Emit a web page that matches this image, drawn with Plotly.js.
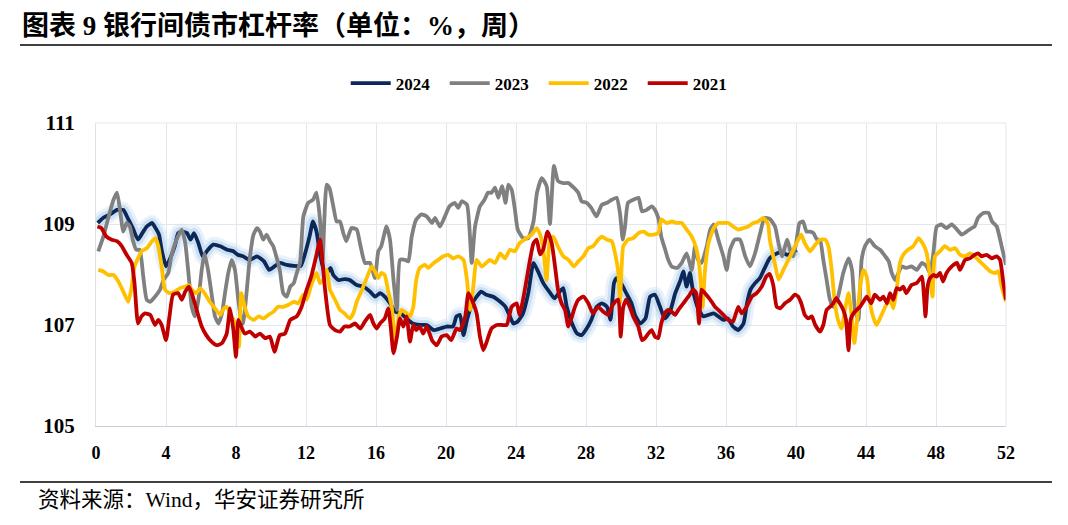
<!DOCTYPE html>
<html>
<head>
<meta charset="utf-8">
<script src="https://cdn.plot.ly/plotly-3.0.1.min.js"></script>
<style>
  html, body { margin: 0; padding: 0; background: #ffffff; }
  #chart { width: 1068px; height: 525px; }
</style>
</head>
<body>
<div id="chart"></div>
<script>
// ---- data (x = week of year) ----
const seriesNames = ["2024", "2023", "2022", "2021"];
const xTicks = [0, 4, 8, 12, 16, 20, 24, 28, 32, 36, 40, 44, 48, 52];
const yTicks = [105, 107, 109, 111];

const w2024 = [0.1,0.4,0.8,1.2,1.56,1.85,2.1,2.4,2.7,2.9,3.2,3.4,3.6,3.75,4.0,4.2,4.5,4.7,4.9,5.2,5.4,5.6,5.85,6.1,6.4,6.7,7.1,7.5,7.85,8.1,8.4,8.8,9.2,9.6,9.9,10.2,10.5,10.9,11.3,11.7,11.9,12.2,12.4,12.6,12.8,13.0,13.1,13.4,13.56,13.85,14.2,14.5,14.9,15.3,15.66,15.95,16.23,16.5,16.8,17.1,17.4,17.75,18.1,18.5,18.9,19.3,19.66,20.04,20.4,20.6,20.8,21.0,21.2,21.5,21.75,22.0,22.3,22.7,23.1,23.4,23.65,23.85,24.1,24.4,24.7,25.0,25.3,25.56,25.9,26.2,26.5,26.7,26.9,27.2,27.5,27.75,28.04,28.3,28.6,28.9,29.2,29.4,29.6,29.75,30.0,30.3,30.6,30.8,31.1,31.4,31.66,31.94,32.23,32.5,32.8,33.1,33.4,33.56,33.75,33.94,34.1,34.4,34.7,35.0,35.3,35.56,35.85,36.1,36.4,36.7,37.0,37.2,37.4,37.66,37.94,38.2,38.5,38.8,39.1,39.3,39.5,39.75,40.04];
const v2024 = [109.02,109.12,109.19,109.28,109.28,109.09,108.92,108.69,108.85,108.95,109.02,108.92,108.79,108.49,108.16,108.29,108.56,108.82,108.85,108.82,108.69,108.82,108.62,108.36,108.49,108.59,108.56,108.49,108.46,108.39,108.36,108.29,108.36,108.26,108.09,108.16,108.23,108.19,108.17,108.17,108.36,108.75,109.05,108.85,108.4,108.1,107.99,108.13,107.99,107.89,107.91,107.89,107.79,107.76,107.66,107.56,107.63,107.56,107.43,107.26,107.23,107.13,107.03,107.0,107.0,106.9,106.93,106.97,106.97,107.17,107.2,106.8,107.1,107.43,107.56,107.66,107.6,107.56,107.46,107.36,107.17,107.03,107.07,107.23,107.63,108.23,108.03,107.83,107.66,107.53,107.66,107.73,107.36,107.03,106.83,106.8,106.93,107.1,107.36,107.43,107.36,107.1,107.83,107.93,107.83,107.63,107.43,107.2,107.03,107.13,107.56,107.6,107.36,107.13,107.26,107.63,107.89,108.06,107.76,108.03,107.7,107.33,107.17,107.2,107.23,107.17,107.1,107.13,106.97,106.9,107.03,107.43,107.7,107.83,107.93,108.12,108.32,108.4,108.44,108.42,108.39,108.42,108.49];

const w2023 = [0.13,0.42,0.7,1.0,1.2,1.37,1.56,1.75,1.94,2.1,2.3,2.5,2.7,2.9,3.1,3.37,3.66,3.85,4.13,4.3,4.6,4.9,5.1,5.3,5.47,5.66,5.85,6.04,6.2,6.4,6.6,6.8,7.0,7.2,7.37,7.56,7.75,7.94,8.13,8.3,8.4,8.6,8.8,9.0,9.2,9.37,9.56,9.75,9.94,10.13,10.3,10.5,10.7,10.9,11.1,11.3,11.47,11.66,11.85,12.13,12.4,12.6,12.8,12.95,13.18,13.35,13.56,13.75,13.94,14.13,14.3,14.6,14.9,15.1,15.37,15.66,15.94,16.13,16.3,16.6,16.8,17.0,17.2,17.37,17.66,17.85,18.04,18.3,18.6,18.9,19.2,19.37,19.66,19.94,20.2,20.5,20.7,20.9,21.2,21.47,21.66,21.94,22.2,22.4,22.6,22.8,22.99,23.2,23.4,23.56,23.75,23.94,24.1,24.4,24.7,25.0,25.2,25.47,25.75,25.94,26.17,26.4,26.7,27.0,27.3,27.56,27.75,28.04,28.3,28.6,28.9,29.2,29.47,29.75,29.94,30.1,30.23,30.4,30.7,31.0,31.2,31.47,31.75,31.94,32.13,32.3,32.5,32.7,32.9,33.2,33.47,33.75,34.04,34.23,34.4,34.6,34.9,35.1,35.3,35.56,35.85,36.04,36.23,36.5,36.8,37.1,37.37,37.66,37.94,38.2,38.5,38.8,39.0,39.2,39.5,39.66,39.85,40.04,40.2,40.4,40.6,40.8,41.0,41.2,41.37,41.56,41.75,41.94,42.13,42.4,42.7,43.0,43.2,43.37,43.56,43.75,43.94,44.2,44.5,44.8,45.1,45.3,45.47,45.66,45.85,46.04,46.3,46.6,46.9,47.2,47.47,47.66,47.85,48.04,48.3,48.6,48.9,49.2,49.47,49.75,50.04,50.2,50.4,50.7,51.0,51.2,51.47,51.75,52.0];
const v2023 = [108.46,108.75,109.12,109.48,109.62,109.28,108.85,109.02,108.95,108.69,108.49,108.49,107.96,107.5,107.46,107.56,107.7,107.89,108.03,108.36,108.69,108.89,108.62,107.96,107.36,107.17,107.5,108.09,108.42,108.09,107.63,107.17,107.03,107.23,107.63,108.03,108.29,108.09,107.5,107.1,107.03,107.63,108.36,108.79,108.92,108.85,108.69,108.79,108.66,108.56,108.36,108.09,107.63,107.56,107.76,107.83,108.03,108.23,109.15,109.42,109.48,109.62,109.09,108.3,109.78,109.7,109.35,109.05,109.05,108.82,108.66,108.92,108.89,108.59,108.23,108.23,107.93,108.46,108.56,108.95,108.69,107.89,107.3,108.29,108.29,108.26,108.75,109.09,109.19,109.15,109.02,109.12,108.95,109.15,109.35,109.42,109.32,109.45,109.38,108.23,108.95,109.35,109.48,109.62,109.62,109.72,109.52,109.75,109.42,109.78,109.68,109.28,108.89,108.72,108.72,109.05,109.62,109.91,109.75,109.0,110.15,109.85,109.81,109.81,109.72,109.62,109.45,109.42,109.32,109.15,109.38,109.42,109.48,109.52,109.22,108.69,108.95,109.42,109.48,109.52,109.25,109.28,109.35,109.28,109.12,108.75,108.52,108.29,108.16,108.13,108.23,108.42,108.09,108.56,108.29,108.23,108.56,108.89,108.99,108.69,108.36,108.09,108.49,108.69,108.69,108.36,108.16,108.42,108.8,109.12,109.1,108.95,108.62,108.36,108.69,108.49,108.36,108.69,109.02,109.05,108.85,108.85,108.82,108.69,108.69,108.29,107.89,107.5,107.36,107.56,108.03,108.32,108.09,107.3,107.1,108.29,108.56,108.69,108.56,108.49,108.36,108.26,108.03,107.89,108.03,108.16,108.13,108.16,108.09,108.23,108.16,108.03,108.42,108.95,108.99,108.92,108.99,108.89,108.79,108.85,108.92,108.95,109.12,109.22,109.22,109.05,108.95,108.56,108.19];

const w2022 = [0.13,0.42,0.7,1.0,1.28,1.56,1.85,2.04,2.2,2.4,2.6,2.9,3.2,3.4,3.56,3.75,3.94,4.2,4.5,4.8,5.1,5.3,5.47,5.75,5.94,6.2,6.5,6.8,7.1,7.3,7.47,7.75,8.04,8.17,8.3,8.5,8.7,9.0,9.3,9.56,9.85,10.13,10.4,10.7,11.0,11.3,11.56,11.85,12.04,12.3,12.6,12.8,13.0,13.18,13.37,13.66,13.94,14.2,14.5,14.7,14.9,15.2,15.47,15.75,15.94,16.13,16.3,16.5,16.7,16.9,17.1,17.3,17.47,17.75,17.94,18.13,18.3,18.5,18.8,18.99,19.3,19.56,19.85,20.13,20.4,20.7,21.0,21.2,21.37,21.56,21.75,22.04,22.3,22.5,22.8,23.1,23.37,23.66,23.94,24.2,24.6,24.9,25.18,25.37,25.56,25.75,25.94,26.13,26.4,26.7,27.0,27.3,27.56,27.85,28.13,28.4,28.7,28.9,29.2,29.47,29.66,29.85,29.94,30.13,30.4,30.7,31.0,31.3,31.56,31.85,32.13,32.3,32.6,32.9,33.2,33.47,33.75,34.04,34.3,34.5,34.66,34.8,35.0,35.3,35.56,35.85,36.13,36.4,36.7,37.0,37.27,37.56,37.85,38.13,38.4,38.5,38.8,39.0,39.28,39.56,39.85,40.13,40.3,40.5,40.8,41.1,41.37,41.66,41.85,42.04,42.2,42.4,42.6,42.8,43.0,43.2,43.33,43.47,43.66,43.85,44.04,44.2,44.4,44.6,44.8,45.1,45.37,45.56,45.75,45.94,46.13,46.4,46.7,47.0,47.28,47.47,47.66,47.8,47.94,48.23,48.5,48.8,49.1,49.37,49.66,49.94,50.2,50.5,50.8,51.1,51.37,51.56,51.75,52.0];
const v2022 = [108.09,108.06,107.99,107.99,107.86,107.66,107.46,107.76,108.16,108.32,108.46,108.52,108.66,108.72,108.56,108.16,107.7,107.63,107.66,107.73,107.76,107.79,107.7,107.63,107.73,107.63,107.46,107.33,107.2,107.33,107.36,107.17,106.97,106.57,107.63,107.36,107.17,107.1,107.17,107.13,107.2,107.26,107.36,107.36,107.4,107.46,107.43,107.6,107.5,107.79,108.03,107.83,107.9,108.09,107.7,107.5,107.3,107.23,107.13,107.23,107.46,107.7,107.93,108.16,108.06,107.93,108.03,107.99,107.66,107.36,106.67,107.17,107.3,107.23,107.17,107.36,107.89,108.13,108.19,108.13,108.23,108.29,108.36,108.39,108.32,108.36,108.29,107.89,107.3,107.76,108.29,108.16,108.23,108.29,108.23,108.42,108.32,108.49,108.46,108.62,108.72,108.79,108.92,108.8,108.5,107.89,108.7,108.75,108.55,108.36,108.29,108.16,108.26,108.36,108.52,108.56,108.69,108.75,108.69,108.66,108.42,108.03,107.43,108.56,108.69,108.72,108.82,108.85,108.79,108.79,108.82,109.09,109.02,109.05,109.02,109.02,108.89,108.75,108.52,108.09,107.36,108.09,108.62,108.92,109.02,109.02,109.02,108.95,108.89,108.92,108.95,109.02,109.05,109.12,109.0,108.7,108.2,107.9,108.09,108.29,108.49,108.69,108.79,108.62,108.46,108.59,108.69,108.69,108.56,108.09,107.5,107.1,106.93,107.3,107.63,107.1,106.64,107.03,107.76,108.09,107.96,107.5,107.17,107.0,107.13,107.36,107.5,107.33,107.7,108.23,108.39,108.49,108.56,108.72,108.59,108.42,107.96,107.56,108.36,108.46,108.56,108.49,108.52,108.39,108.36,108.42,108.36,108.26,108.16,108.06,108.03,108.06,107.76,107.46];

const w2021 = [0.08,0.3,0.6,0.9,1.2,1.47,1.75,2.04,2.2,2.4,2.6,2.8,3.1,3.37,3.56,3.75,4.0,4.2,4.4,4.7,4.9,5.1,5.3,5.47,5.75,6.04,6.3,6.6,6.9,7.2,7.47,7.66,7.85,8.0,8.13,8.3,8.5,8.8,9.1,9.37,9.66,9.94,10.2,10.5,10.8,11.1,11.47,11.75,12.04,12.3,12.6,12.8,13.09,13.37,13.66,13.94,14.2,14.5,14.8,15.1,15.37,15.66,15.85,16.04,16.23,16.5,16.7,16.84,17.0,17.2,17.37,17.56,17.75,17.94,18.13,18.3,18.5,18.7,18.9,19.2,19.47,19.75,20.04,20.3,20.6,20.8,21.1,21.28,21.56,21.75,21.94,22.13,22.3,22.6,22.9,23.2,23.47,23.75,24.04,24.2,24.4,24.6,24.8,25.0,25.18,25.37,25.56,25.8,26.04,26.23,26.4,26.6,26.8,26.99,27.2,27.37,27.56,27.85,28.13,28.4,28.7,28.99,29.28,29.47,29.66,29.85,29.98,30.13,30.3,30.5,30.7,30.99,31.2,31.37,31.56,31.75,31.94,32.13,32.3,32.5,32.7,32.9,33.1,33.28,33.56,33.85,34.13,34.3,34.46,34.6,34.8,35.1,35.37,35.56,35.85,36.13,36.4,36.7,36.9,37.18,37.47,37.75,38.04,38.3,38.5,38.7,38.9,39.1,39.37,39.66,39.94,40.13,40.3,40.5,40.7,40.9,41.1,41.37,41.56,41.75,41.94,42.13,42.3,42.5,42.7,42.86,43.0,43.12,43.28,43.47,43.66,43.85,44.04,44.3,44.5,44.8,44.99,45.2,45.37,45.56,45.75,45.94,46.13,46.3,46.6,46.9,47.2,47.3,47.4,47.52,47.66,47.85,48.04,48.23,48.4,48.6,48.9,49.2,49.37,49.66,49.94,50.2,50.4,50.6,50.9,51.18,51.47,51.66,51.85,52.0];
const v2021 = [108.95,108.92,108.75,108.69,108.66,108.56,108.39,108.23,107.83,107.03,107.17,107.23,107.2,107.0,107.1,107.0,106.7,107.17,107.6,107.63,107.5,107.66,107.76,107.63,107.3,106.97,106.8,106.67,106.6,106.64,106.83,107.33,106.9,106.37,107.1,106.97,106.83,106.87,106.77,106.83,106.74,106.77,106.47,106.8,106.83,107.1,107.17,107.36,107.7,107.96,108.39,108.69,107.7,107.0,106.9,106.87,106.97,106.97,107.03,106.93,107.07,107.2,107.03,106.93,107.03,107.13,107.33,106.97,106.44,106.77,107.13,106.97,107.17,106.67,107.0,106.9,106.97,106.83,106.97,106.7,106.6,106.77,106.8,106.7,106.93,106.9,107.17,107.63,107.43,107.23,106.77,106.5,106.64,106.93,107.0,107.0,107.0,107.36,107.43,107.2,107.5,107.89,108.29,108.62,108.69,108.4,108.5,108.85,108.62,108.16,107.7,107.43,107.3,106.97,107.17,107.36,107.5,107.56,107.43,107.23,107.36,107.26,107.2,107.36,107.46,107.5,106.77,107.36,107.5,107.36,107.17,106.97,106.7,106.74,106.83,106.9,106.77,106.74,107.03,107.23,107.3,107.26,107.2,107.3,107.43,107.56,107.7,107.63,107.03,107.7,107.63,107.5,107.36,107.3,107.2,107.1,107.07,107.36,107.23,107.36,107.56,107.63,107.76,107.96,108.01,107.79,107.36,107.33,107.43,107.5,107.6,107.56,107.43,107.2,107.13,107.17,107.0,106.87,107.0,107.3,107.36,107.43,107.53,107.43,107.3,107.1,106.5,107.1,107.23,107.3,107.36,107.46,107.56,107.43,107.6,107.5,107.56,107.43,107.63,107.5,107.73,107.7,107.76,107.63,107.79,107.83,107.96,107.63,107.17,107.76,107.93,107.99,107.96,108.03,107.86,108.03,108.16,108.23,108.09,108.29,108.32,108.39,108.42,108.36,108.39,108.32,108.36,108.29,107.83,107.5];

const titleText = "图表 9 银行间债市杠杆率（单位：%，周）";
const sourceText = "资料来源：Wind，华安证券研究所";

// ---- styling ----
const colors = { "2024": "#0b2858", "2023": "#808080", "2022": "#ffc000", "2021": "#c00000" };
const serif = "'Liberation Serif', 'Times New Roman', 'Noto Sans CJK SC', serif";
const cjk = "'Liberation Serif', 'Noto Sans CJK SC', serif";

function line(name, xs, ys) {
  return {
    type: "scatter", mode: "lines", name: name, x: xs, y: ys,
    line: { color: colors[name], width: 3.8, shape: "spline", smoothing: 0.5 },
    hoverinfo: "x+y+name"
  };
}

const glowOuter = {
  type: "scatter", mode: "lines", x: w2024, y: v2024, showlegend: false, hoverinfo: "skip",
  line: { color: "rgba(200,222,242,0.40)", width: 16, shape: "spline", smoothing: 0.5 }
};
const glowInner = {
  type: "scatter", mode: "lines", x: w2024, y: v2024, showlegend: false, hoverinfo: "skip",
  line: { color: "rgba(160,197,232,0.40)", width: 10, shape: "spline", smoothing: 0.5 }
};

const data = [
  glowOuter, glowInner,
  line("2024", w2024, v2024),
  line("2023", w2023, v2023),
  line("2022", w2022, v2022),
  line("2021", w2021, v2021)
];

const layout = {
  width: 1068, height: 525,
  margin: { l: 96, r: 62, t: 123, b: 99 },
  paper_bgcolor: "#ffffff", plot_bgcolor: "#ffffff",
  font: { family: serif, color: "#000000" },
  showlegend: true,
  legend: {
    orientation: "h", x: 0.492, xanchor: "center", y: 1.13, yanchor: "middle",
    font: { family: serif, size: 17, color: "#000000", weight: "bold" },
    itemwidth: 40, entrywidth: 44, entrywidthmode: "pixels",
    traceorder: "normal", bgcolor: "rgba(0,0,0,0)"
  },
  xaxis: {
    range: [0, 52], tickvals: xTicks, ticktext: xTicks.map(String),
    showgrid: true, gridcolor: "#e1e7ef", gridwidth: 1,
    zeroline: false, showline: true, linecolor: "#c7d1de", linewidth: 1.2,
    ticks: "", ticklabelstandoff: 10,
    tickfont: { family: serif, size: 18, color: "#000000", weight: "bold" },
    fixedrange: true
  },
  yaxis: {
    range: [105, 111], tickvals: yTicks, ticktext: yTicks.map(String),
    showgrid: true, gridcolor: "#e1e7ef", gridwidth: 1,
    zeroline: false, showline: true, linecolor: "#dbe2ec", linewidth: 1,
    ticks: "", ticklabelstandoff: 16,
    tickfont: { family: serif, size: 21, color: "#000000", weight: "bold" },
    fixedrange: true
  },
  shapes: [
    { type: "line", xref: "paper", yref: "paper", x0: -0.0835, x1: 1.0505, y0: 1.2574, y1: 1.2574,
      line: { color: "#000000", width: 1.3 } },
    { type: "line", xref: "paper", yref: "paper", x0: -0.0835, x1: 1.0505, y0: -0.1848, y1: -0.1848,
      line: { color: "#000000", width: 1.3 } },
    { type: "line", xref: "paper", yref: "paper", x0: 1, x1: 1, y0: 0, y1: 1,
      line: { color: "#e1e7ef", width: 1 } },
    { type: "line", xref: "paper", yref: "paper", x0: 0, x1: 1, y0: 1, y1: 1,
      line: { color: "#e1e7ef", width: 1 } }
  ],
  annotations: [
    { text: titleText, xref: "paper", yref: "paper", x: -0.0835, y: 1.323, xanchor: "left", yanchor: "middle",
      showarrow: false, font: { family: cjk, size: 27, color: "#000000", weight: "bold" } },
    { text: sourceText, xref: "paper", yref: "paper", x: -0.066, y: -0.244, xanchor: "left", yanchor: "middle",
      showarrow: false, font: { family: cjk, size: 21.5, color: "#000000" } }
  ]
};

Plotly.newPlot("chart", data, layout, { displayModeBar: false, staticPlot: false, responsive: false });
</script>
</body>
</html>
